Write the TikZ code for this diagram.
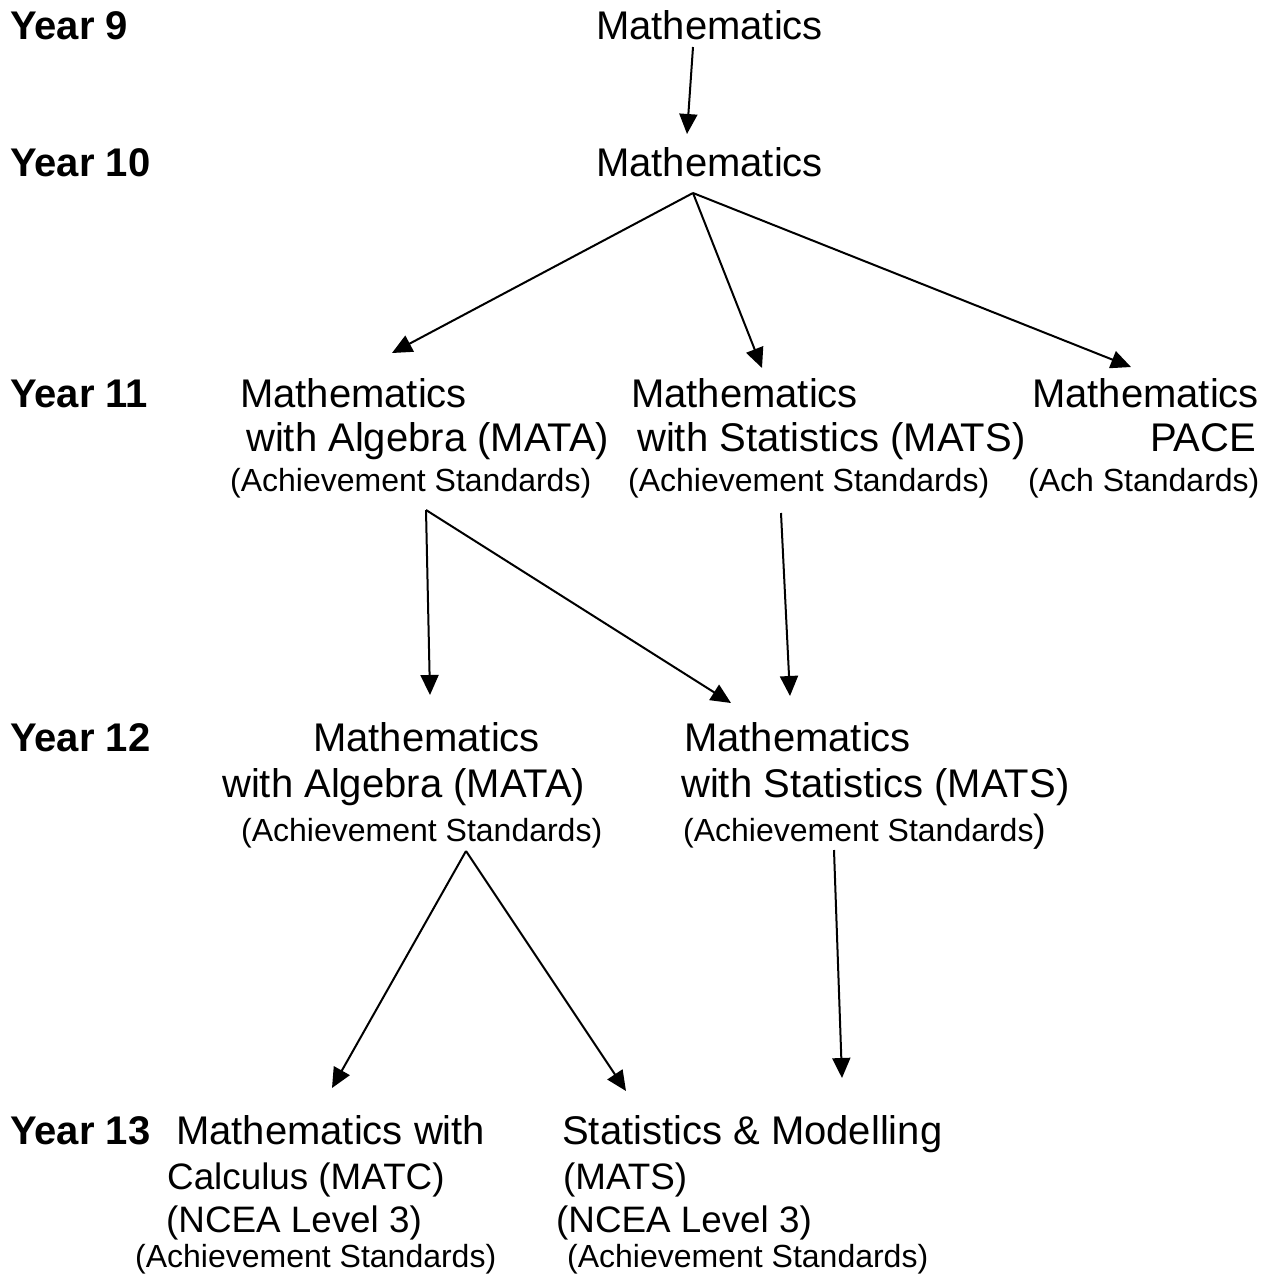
\documentclass[tikz,border=0pt]{standalone}
\usepackage{fontspec}
\setmainfont{Liberation Sans}
\usetikzlibrary{arrows.meta}
\begin{document}
\begin{tikzpicture}[x=1pt,y=-1pt,
  big/.style={inner sep=0pt,anchor=base west,font=\fontsize{40}{44}\selectfont},
  mid/.style={inner sep=0pt,anchor=base west,font=\fontsize{36.8}{40}\selectfont},
  small/.style={inner sep=0pt,anchor=base west,font=\fontsize{32}{36}\selectfont},
  yearlbl/.style={inner sep=0pt,anchor=base west,font=\fontsize{40}{44}\selectfont\bfseries},
  conn/.style={line width=2pt,-{Triangle[length=20pt,width=18pt]}}]
\useasboundingbox (0,0) rectangle (1269,1275);
% year labels
\node[yearlbl] (y9) at (10,39) {Year 9};
\node[yearlbl] (y10) at (10,176) {Year 10};
\node[yearlbl] (y11) at (10,407) {Year 11};
\node[yearlbl] (y12) at (10,751) {Year 12};
\node[yearlbl] (y13) at (10,1144) {Year 13};
% Year 9 / 10
\node[big] (m9) at (596,39) {Mathematics};
\node[big] (m10) at (596,176) {Mathematics};
% Year 11
\node[big] (a11a) at (240,407) {Mathematics};
\node[big] (a11b) at (246,451) {with Algebra (MATA)};
\node[small] (a11c) at (230,491) {(Achievement Standards)};
\node[big] (s11a) at (631,407) {Mathematics};
\node[big] (s11b) at (637,451) {with Statistics (MATS)};
\node[small] (s11c) at (628,491) {(Achievement Standards)};
\node[big] (p11a) at (1032,407) {Mathematics};
\node[big] (p11b) at (1150,451) {PACE};
\node[small] (p11c) at (1028,491) {(Ach Standards)};
% Year 12
\node[big] (a12a) at (313,751) {Mathematics};
\node[big] (a12b) at (222,797) {with Algebra (MATA)};
\node[small] (a12c) at (241,841) {(Achievement Standards)};
\node[big] (s12a) at (684,751) {Mathematics};
\node[big] (s12b) at (681,797) {with Statistics (MATS)};
\node[small] (s12c) at (683,841) {(Achievement Standards\fontsize{38}{40}\selectfont)};
% Year 13
\node[big] (c13a) at (176,1144) {Mathematics with};
\node[mid] (c13b) at (167,1189) {Calculus (MATC)};
\node[mid] (c13c) at (166,1232) {(NCEA Level 3)};
\node[small] (c13d) at (135,1267) {(Achievement Standards)};
\node[big] (t13a) at (562,1144) {Statistics \& Modelling};
\node[mid] (t13b) at (563,1189) {(MATS)};
\node[mid] (t13c) at (556,1232) {(NCEA Level 3)};
\node[small] (t13d) at (567,1267) {(Achievement Standards)};
% connector ends
\coordinate (o9) at (693,47);
\coordinate (i10) at (687,134);
\coordinate (o10) at (693,193);
\coordinate (ia11) at (392,353);
\coordinate (is11) at (762,368);
\coordinate (ip11) at (1131,367);
\coordinate (oa11) at (426,510);
\coordinate (os11) at (781,513);
\coordinate (ia12) at (430,695);
\coordinate (ias12) at (731,703);
\coordinate (is12) at (790,696);
\coordinate (oa12) at (466,851);
\coordinate (os12) at (834,850);
\coordinate (ic13) at (332,1088);
\coordinate (it13) at (626,1091);
\coordinate (it13b) at (842,1078);
% connectors
\draw[conn] (o9) -- (i10);
\draw[conn] (o10) -- (ia11);
\draw[conn] (o10) -- (is11);
\draw[conn] (o10) -- (ip11);
\draw[conn] (oa11) -- (ia12);
\draw[conn] (oa11) -- (ias12);
\draw[conn] (os11) -- (is12);
\draw[conn] (oa12) -- (ic13);
\draw[conn] (oa12) -- (it13);
\draw[conn] (os12) -- (it13b);
\end{tikzpicture}
\end{document}
